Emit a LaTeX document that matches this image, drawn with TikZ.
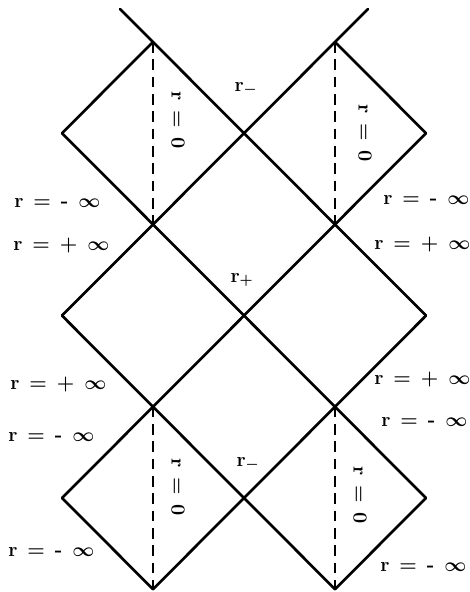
\documentclass[tikz,border=0pt]{standalone}
\usepackage{amsmath}
\usetikzlibrary{arrows.meta,positioning}

\tikzset{
  wall/.style={line width=2pt, line cap=round},
  axis/.style={line width=1.6pt, dash pattern=on 8pt off 5pt},
  lbl/.style={font=\fontsize{15}{17}\selectfont\bfseries\boldmath, inner sep=0pt},
}
\newcommand{\rinf}[1]{r\enspace=\enspace#1\enspace$\infty$}
\newcommand{\rzero}{r\enspace=\enspace0}
\newcommand{\rhor}[1]{r$_{#1}$}

\begin{document}
\begin{tikzpicture}[x=0.75pt, y=-0.75pt]
      \useasboundingbox (0,0) rectangle (470,592);

      % lattice points
      \foreach \c in {0,...,4}
        \foreach \r in {0,...,6}
          \coordinate (p\c\r) at ({62+91*\c},{42+91.2*\r});
      \coordinate (tl) at (120,9);
      \coordinate (tr) at (368,9);

      % null lines
      \draw[wall] (tl) -- (p43);
      \draw[wall] (p01) -- (p45);
      \draw[wall] (p03) -- (p36);
      \draw[wall] (p05) -- (p16);
      \draw[wall] (p30) -- (p41);
      \draw[wall] (tr) -- (p03);
      \draw[wall] (p41) -- (p05);
      \draw[wall] (p43) -- (p16);
      \draw[wall] (p45) -- (p36);
      \draw[wall] (p10) -- (p01);

      % r = 0
      \draw[axis] (p10) -- (p12);
      \draw[axis] (p30) -- (p32);
      \draw[axis] (p14) -- (p16);
      \draw[axis] (p34) -- (p36);

      \node[lbl, rotate=-90] (z1) at (178,120) {\rzero};
      \node[lbl, rotate=-90] (z2) at (365,133) {\rzero};
      \node[lbl, rotate=-90] (z3) at (178,487) {\rzero};
      \node[lbl, rotate=-90] (z4) at (360,495) {\rzero};

      \node[lbl] (hm1) at (246,89) {\rhor{-}};
      \node[lbl] (hp) at (242,280) {\rhor{+}};
      \node[lbl] (hm2) at (248,464) {\rhor{-}};

      % infinities
      \node[lbl, anchor=west] (l1) at (14,203) {\rinf{-}};
      \node[lbl, anchor=west] (l2) at (13,246) {\rinf{+}};
      \node[lbl, anchor=west] (l3) at (10,385) {\rinf{+}};
      \node[lbl, anchor=west] (l4) at (8,437) {\rinf{-}};
      \node[lbl, anchor=west] (l5) at (8,552) {\rinf{-}};
      \node[lbl, anchor=west] (r1) at (383,200) {\rinf{-}};
      \node[lbl, anchor=west] (r2) at (374,245) {\rinf{+}};
      \node[lbl, anchor=west] (r3) at (374,380) {\rinf{+}};
      \node[lbl, anchor=west] (r4) at (381,422) {\rinf{-}};
      \node[lbl, anchor=west] (r5) at (380,567) {\rinf{-}};
    \end{tikzpicture}
\end{document}
